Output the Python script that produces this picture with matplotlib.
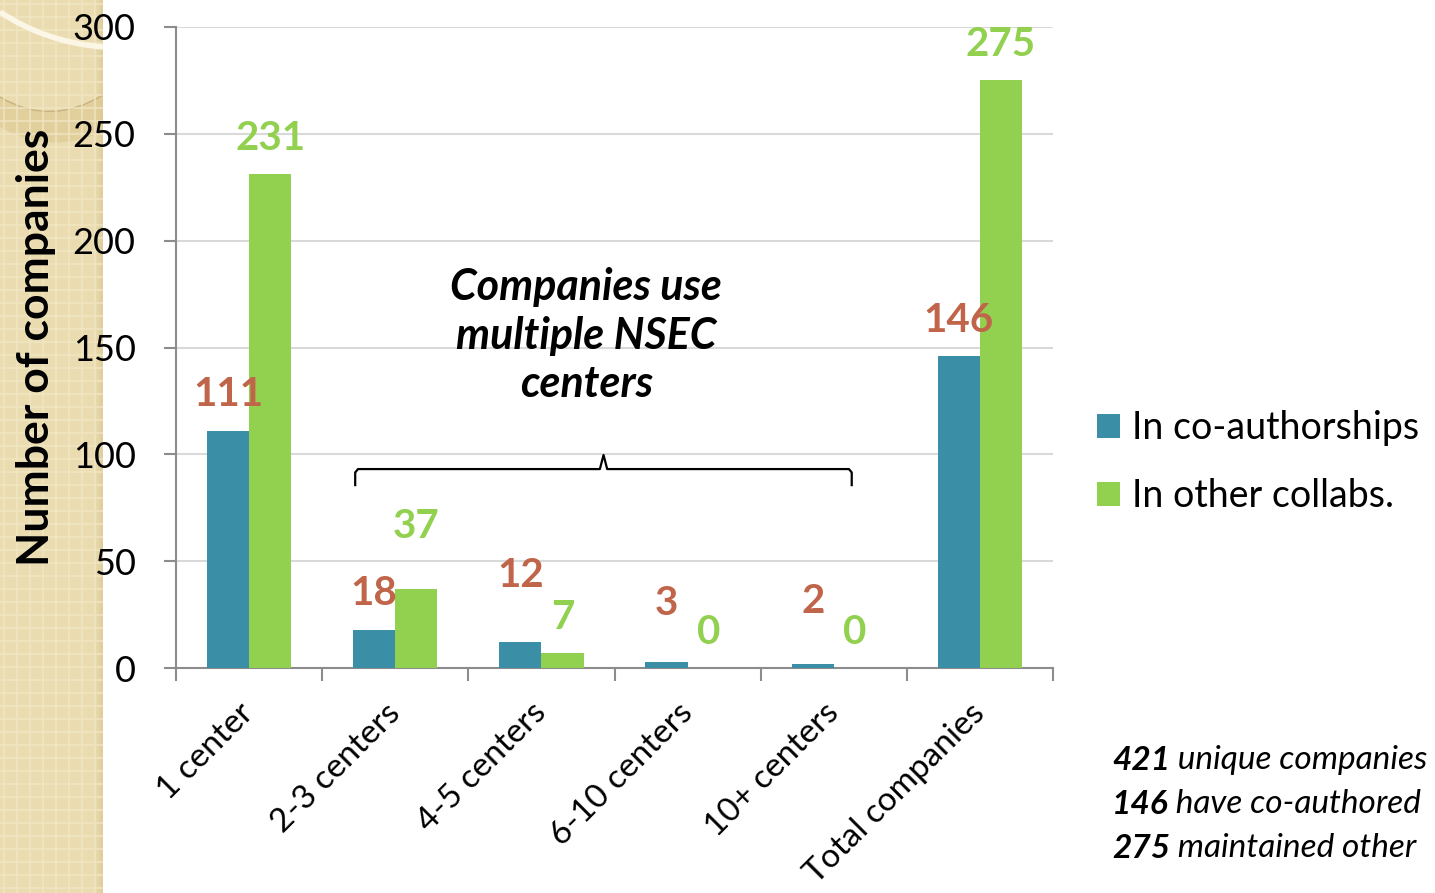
import numpy as np
import matplotlib.pyplot as plt
from matplotlib.patches import Rectangle, PathPatch
from matplotlib.path import Path

plt.rcParams['font.family'] = ['Lato', 'DejaVu Sans']

categories = ['1 center', '2-3 centers', '4-5 centers', '6-10 centers',
              '10+ centers', 'Total companies']
coauthor = [111, 18, 12, 3, 2, 146]
other = [231, 37, 7, 0, 0, 275]
series_names = ['In co-authorships', 'In other collabs.']
# extra lift (px) for the labels that sit higher in the original
lift_co = [0, 0, 31, 22, 26, 0]
lift_other = [0, 26, 0, 0, 0, 0]

note_counts = ['421', '146', '275']
note_texts = [' unique companies', ' have co-authored', ' maintained other']

blue = '#3A8FA7'
green = '#92D050'
red = '#C0654A'

fig = plt.figure(figsize=(14.35, 8.93), dpi=100)

# decorative beige strip on the left
bg = fig.add_axes([0, 0, 103 / 1435, 1], zorder=0)
bg.set_xlim(0, 103)
bg.set_ylim(893, 0)
bg.axis('off')
bg.add_patch(Rectangle((0, 0), 103, 893, color='#EADCB0', lw=0))
for p in np.arange(4, 893, 13):
    bg.axhline(p, color='#F1E6C3', lw=1.6, alpha=0.7)
for p in np.arange(4, 103, 13):
    bg.axvline(p, color='#F1E6C3', lw=1.6, alpha=0.7)
for i, a in enumerate(np.linspace(0.05, 0.35, 8)):
    bg.add_patch(Rectangle((95 + i, 0), 1, 893, color='#C9B27A', alpha=a, lw=0))
band = Path([(0, 97), (50, 127), (103, 95), (103, 132), (50, 155), (0, 127), (0, 97)],
            [Path.MOVETO, Path.CURVE3, Path.CURVE3, Path.LINETO,
             Path.CURVE3, Path.CURVE3, Path.CLOSEPOLY])
bg.add_patch(PathPatch(band, facecolor='#DCC78F', edgecolor='none', alpha=0.6))
thin = Path([(0, 97), (50, 127), (103, 95)], [Path.MOVETO, Path.CURVE3, Path.CURVE3])
bg.add_patch(PathPatch(thin, facecolor='none', edgecolor='#C8B27E', lw=1))
arc = Path([(0, 12), (45, 42), (103, 47)], [Path.MOVETO, Path.CURVE3, Path.CURVE3])
bg.add_patch(PathPatch(arc, facecolor='none', edgecolor='#FBF6E6', lw=4, zorder=5))

ax = fig.add_axes([176 / 1435, 1 - 668 / 893, (1053 - 176) / 1435, (668 - 27) / 893])
ax.patch.set_alpha(0)

x = np.arange(len(categories))
w = 0.288
b1 = ax.bar(x - w / 2, coauthor, w, color=blue, label=series_names[0], zorder=3)
b2 = ax.bar(x + w / 2, other, w, color=green, label=series_names[1], zorder=3)

for i in range(len(categories)):
    ax.annotate(str(coauthor[i]), (x[i] - w / 2, coauthor[i]),
                xytext=(0, (36 + lift_co[i]) * 0.72), textcoords='offset points',
                ha='center', va='center', fontsize=29, fontweight='bold', color=red)
    ax.annotate(str(other[i]), (x[i] + w / 2, other[i]),
                xytext=(0, (36 + lift_other[i]) * 0.72), textcoords='offset points',
                ha='center', va='center', fontsize=29, fontweight='bold', color=green)

ax.set_xlim(-0.5, 5.5)
ax.set_ylim(0, 300)
ax.set_yticks(range(0, 301, 50))
ax.yaxis.grid(True, color='#D9D9D9', lw=1.5, zorder=0)
ax.set_axisbelow(True)
for s in ['top', 'right']:
    ax.spines[s].set_visible(False)
for s in ['left', 'bottom']:
    ax.spines[s].set_color('#8C8C8C')
    ax.spines[s].set_linewidth(1.5)

ax.set_xticks(x)
ax.set_xticks(np.arange(-0.5, 6, 1), minor=True)
ax.tick_params(axis='x', which='major', length=0, pad=29)
ax.tick_params(axis='x', which='minor', length=9, width=1.5, color='#8C8C8C')
ax.tick_params(axis='y', length=9, width=1.5, color='#8C8C8C', labelsize=26, pad=20)
ax.set_xticklabels(categories, rotation=45, ha='right', va='center',
                   rotation_mode='anchor', fontsize=24)
ax.set_ylabel('Number of companies', fontsize=32, fontweight='bold', labelpad=12)

# brace over the multi-center groups
bx = [0.726, 0.726, 0.745, 2.40, 2.425, 2.45, 4.104, 4.123, 4.123]
by = [85.6, 91.5, 93.1, 93.1, 99.7, 93.1, 93.1, 91.5, 85.6]
ax.plot(bx, by, color='black', lw=1.6, zorder=4)
ax.text(2.308, 155.5, 'Companies use\nmultiple NSEC\ncenters', ha='center', va='center',
        fontsize=31, fontweight='bold', fontstyle='italic', linespacing=1.25)

fig.legend(handles=[b1, b2], loc='center left',
           bbox_to_anchor=(1097 / 1435, 1 - 462 / 893),
           frameon=False, fontsize=27, handlelength=0.62, handleheight=0.62,
           handletextpad=0.3, labelspacing=0.85, borderaxespad=0, borderpad=0)

for k in range(3):
    yy = 1 - (760 + 44 * k) / 893
    t = fig.text(1112 / 1435, yy, note_counts[k], fontsize=24, fontweight='bold',
                 fontstyle='italic', va='center')
    fig.canvas.draw()
    bb = t.get_window_extent()
    fig.text(bb.x1 / 1435, yy, note_texts[k], fontsize=24, fontstyle='italic', va='center')

fig.savefig('out.png', dpi=100)
